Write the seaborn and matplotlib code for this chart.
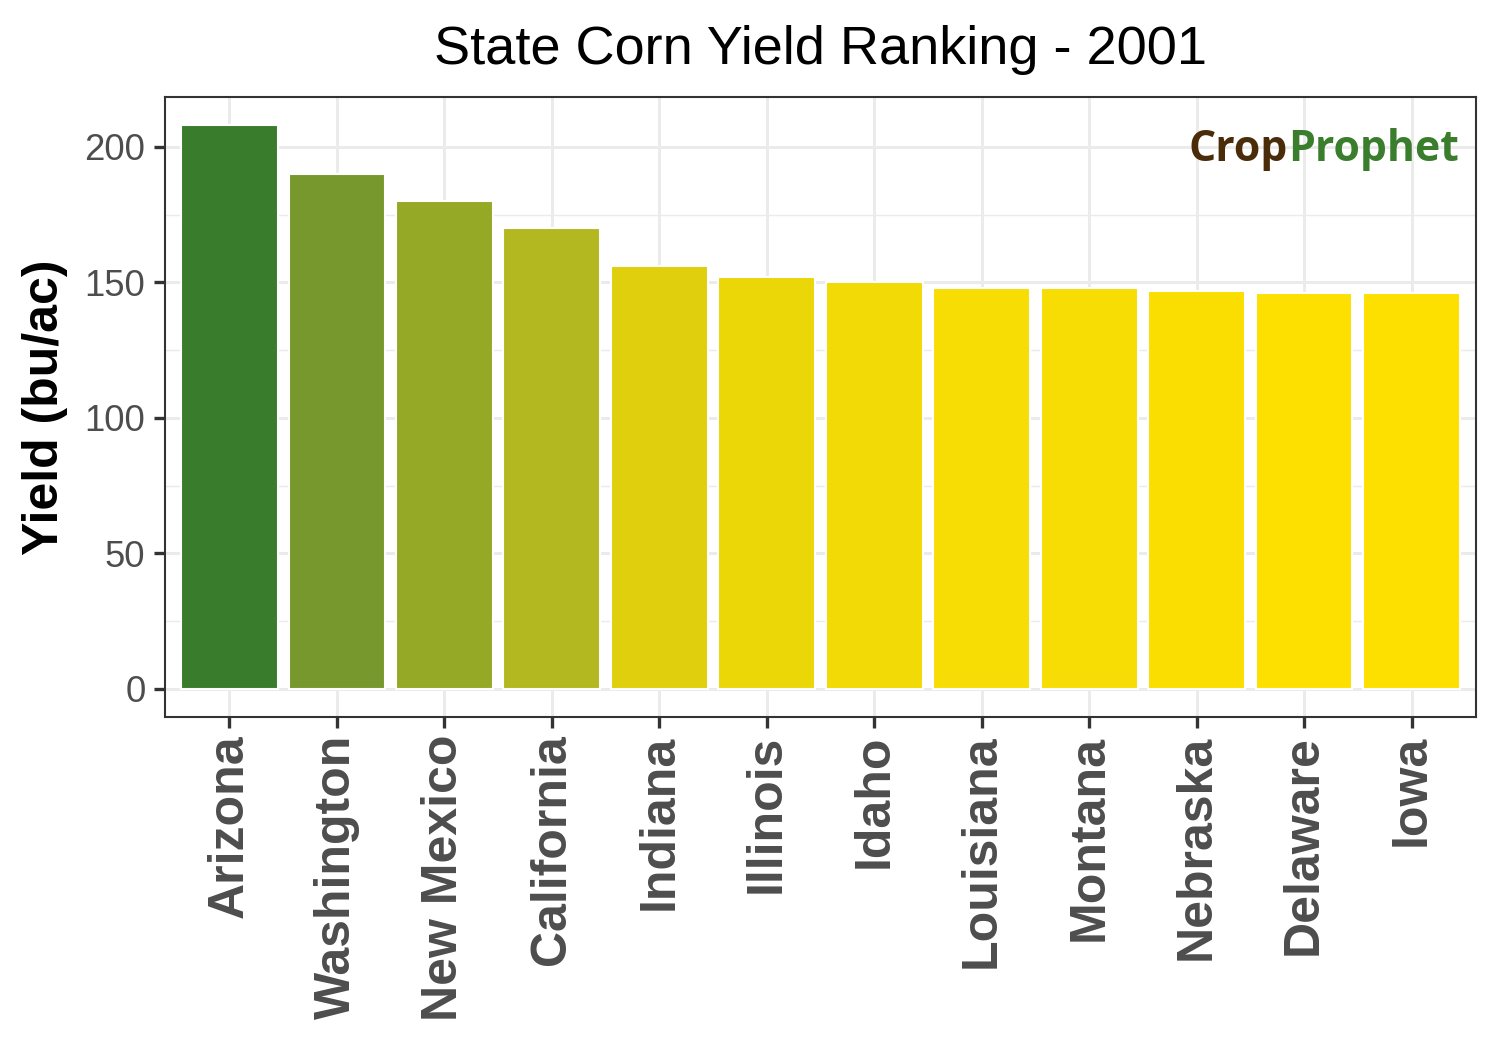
import numpy as np
import pandas as pd
import matplotlib
matplotlib.use("Agg")
import matplotlib.pyplot as plt
import matplotlib.colors as mcolors
import seaborn as sns

# Datos
states = ['Arizona', 'Washington', 'New Mexico', 'California', 'Indiana', 'Illinois',
          'Idaho', 'Louisiana', 'Montana', 'Nebraska', 'Delaware', 'Iowa']
yields = [208, 190, 180, 170, 156, 152, 150, 148, 148, 147, 146, 146]

df = pd.DataFrame({'state': states, 'yield': yields})

# Escala de color continua (amarillo -> verde) según el rendimiento
cmap = mcolors.LinearSegmentedColormap.from_list(
    'corn', [(0.0, '#FDE000'), (0.387, '#B4B820'), (0.548, '#96A926'),
             (0.71, '#77982C'), (1.0, '#387C2C')])
norm = mcolors.Normalize(vmin=min(yields), vmax=max(yields))
palette = {s: mcolors.to_hex(cmap(norm(v))) for s, v in zip(states, yields)}

sns.set_theme(style="whitegrid")
plt.rcParams['font.family'] = ['Liberation Sans', 'DejaVu Sans']

fig = plt.figure(figsize=(10, 7), dpi=150)
ax = fig.add_axes([0.11, 0.317, 0.874, 0.5906])

sns.barplot(data=df, x='state', y='yield', hue='state', palette=palette,
            order=states, width=0.9, legend=False, saturation=1, ax=ax)

ax.set_xlim(-0.6, len(states) - 0.4)
ax.set_ylim(-10.4, 218.4)
ax.set_yticks([0, 50, 100, 150, 200])
ax.set_yticks([25, 75, 125, 175], minor=True)

# Rejilla estilo theme_bw
ax.set_axisbelow(True)
ax.grid(which='major', axis='both', color='#EBEBEB', linewidth=1.4)
ax.grid(which='minor', axis='y', color='#EBEBEB', linewidth=0.7)
for sp in ax.spines.values():
    sp.set_visible(True)
    sp.set_color('#333333')
    sp.set_linewidth(1.0)

ax.tick_params(axis='both', which='major', length=5.4, width=1.6, color='#333333',
               direction='out', bottom=True, left=True)
ax.tick_params(axis='y', which='minor', length=0)
ax.tick_params(axis='y', labelsize=17.5, labelcolor='#4D4D4D', pad=4)
ax.tick_params(axis='x', labelsize=24, labelcolor='#4D4D4D', pad=3)
for lab in ax.get_xticklabels():
    lab.set_rotation(90)
    lab.set_fontweight('bold')
    lab.set_ha('center')
    lab.set_va('top')

ax.set_xlabel('')
ax.set_ylabel('Yield (bu/ac)', fontsize=24, fontweight='bold', labelpad=8, color='black')
ax.set_title('State Corn Yield Ranking - 2001', fontsize=26, pad=16, color='black')

# Logo de texto
t1 = ax.text(0.781, 0.915, 'Crop', transform=ax.transAxes, fontsize=20.5,
             fontweight='bold', color='#4A2C0A', family=['Open Sans', 'DejaVu Sans'],
             va='center', ha='left')
ax.annotate('Prophet', xy=(1, 0.5), xycoords=t1, fontsize=20.5, fontweight='bold',
            color='#3A7D2C', family=['Open Sans', 'DejaVu Sans'], va='center', ha='left')

fig.savefig('out.png', dpi=150, facecolor='white')
